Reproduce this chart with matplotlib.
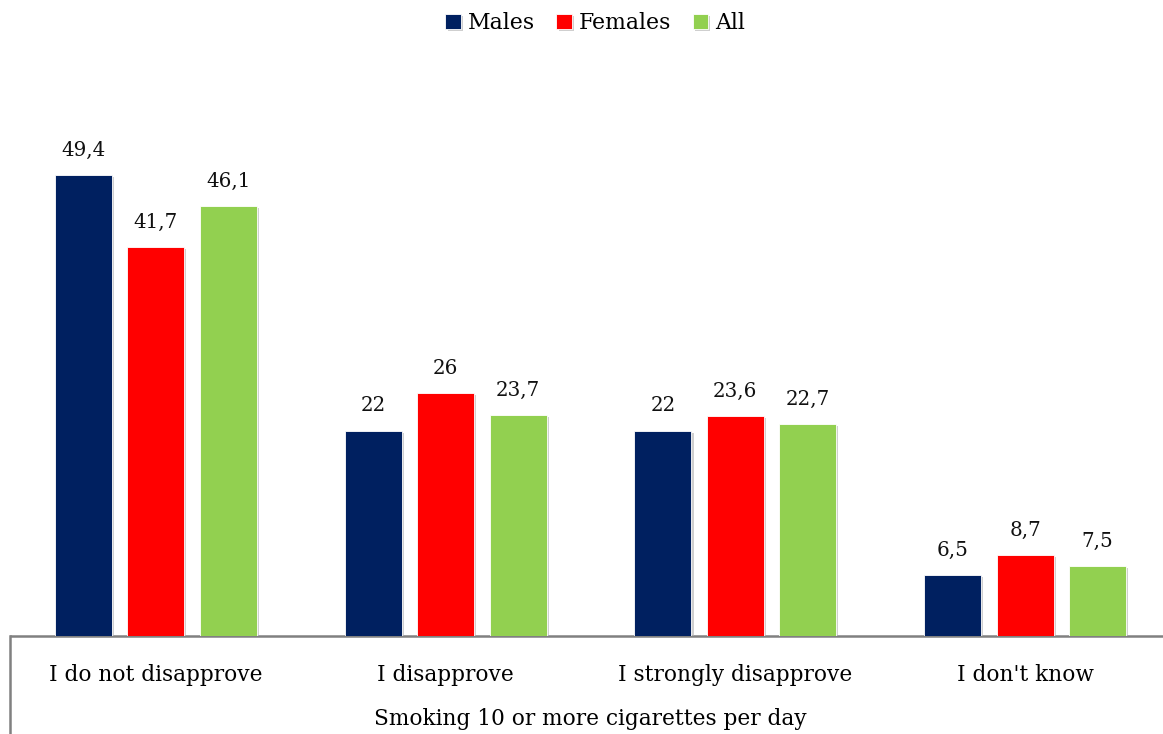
import matplotlib.pyplot as plt
import matplotlib.patheffects as pe
import numpy as np

categories = ["I do not disapprove", "I disapprove", "I strongly disapprove", "I don't know"]
series = ["Males", "Females", "All"]
males = [49.4, 22, 22, 6.5]
females = [41.7, 26, 23.6, 8.7]
all_ = [46.1, 23.7, 22.7, 7.5]
labels = [["49,4", "22", "22", "6,5"],
          ["41,7", "26", "23,6", "8,7"],
          ["46,1", "23,7", "22,7", "7,5"]]
colors = ["#002060", "#FF0000", "#92D050"]
axis_title = "Smoking 10 or more cigarettes per day"

plt.rcParams["font.family"] = ["DejaVu Serif"]

fig = plt.figure(figsize=(11.63, 7.34), dpi=100)
ax = fig.add_axes([11 / 1163, 98 / 734, 1159 / 1163, 560 / 734])

x = np.arange(len(categories))
width = 0.197
shadow = [pe.SimplePatchShadow(offset=(1.5, -1.5), shadow_rgbFace="#b0b0b0", alpha=0.6), pe.Normal()]
for i, (vals, name) in enumerate(zip([males, females, all_], series)):
    pos = x + (i - 1) * 0.25
    ax.bar(pos, vals, width, color=colors[i], label=name,
           edgecolor="white", linewidth=0.6, path_effects=shadow, zorder=3)
    for p, v, t in zip(pos, vals, labels[i]):
        ax.annotate(t, (p, v), xytext=(0, 11), textcoords="offset points",
                    ha="center", va="bottom", fontsize=14.3, color="#111111")

ax.set_xlim(-0.5, len(categories) - 0.5)
ax.set_ylim(0, 60)
ax.set_yticks([])
ax.set_xticks(x)
ax.set_xticklabels(categories, fontsize=15.6)
ax.tick_params(axis="x", length=0, pad=20)
for s in ["top", "right", "left"]:
    ax.spines[s].set_visible(False)
ax.spines["bottom"].set_color("#808080")
ax.spines["bottom"].set_linewidth(1.8)

# group separator line below the axis
fig.add_artist(plt.Line2D([10 / 1163, 10 / 1163], [0, 98 / 734], color="#808080", lw=1.8))
fig.text(590 / 1163, 15 / 734, axis_title, ha="center", va="center", fontsize=15.6)

ax.legend(loc="center", bbox_to_anchor=(595 / 1163, 1 - 23 / 734), bbox_transform=fig.transFigure,
          ncol=3, frameon=False, fontsize=15.8, handlelength=0.7, handleheight=0.7,
          handletextpad=0.3, columnspacing=1.0)

fig.savefig("out.png", dpi=100)
